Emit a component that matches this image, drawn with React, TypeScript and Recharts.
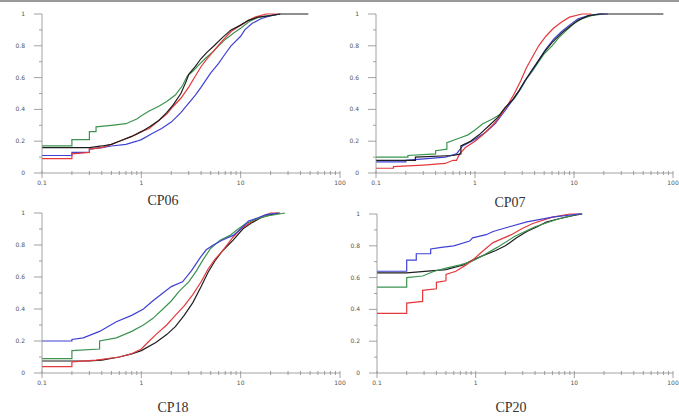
import React from 'react';
import { LineChart, Line, XAxis, YAxis } from 'recharts';

// ---- tick values / labels ----
const X_TICKS = [
  0.1, 0.2, 0.3, 0.4, 0.5, 0.6, 0.7, 0.8, 0.9,
  1, 2, 3, 4, 5, 6, 7, 8, 9,
  10, 20, 30, 40, 50, 60, 70, 80, 90, 100,
];
const X_MAJOR = [0.1, 1, 10, 100];
const X_LABELS = ['0.1', '1', '10', '100'];
const Y_TICKS = [0, 0.1, 0.2, 0.3, 0.4, 0.5, 0.6, 0.7, 0.8, 0.9, 1];
const Y_MAJOR = [0, 0.2, 0.4, 0.6, 0.8, 1];
const Y_LABELS = ['0', '0.2', '0.4', '0.6', '0.8', '1'];

const TITLES = ['CP06', 'CP07', 'CP18', 'CP20'];

// ---- CP06 ----
const cp06Black = [[0.1,0.16],[0.3,0.16],[0.4,0.17],[0.5,0.18],[0.6,0.2],[0.8,0.23],[1.0,0.26],[1.2,0.29],[1.5,0.33],[1.8,0.38],[2.1,0.43],[2.5,0.5],[2.8,0.57],[3.0,0.62],[3.5,0.67],[4,0.72],[4.6,0.76],[5.4,0.8],[6.5,0.85],[8,0.9],[10,0.93],[12,0.96],[15,0.98],[20,0.99],[25,1],[48,1]];
const cp06Red = [[0.1,0.09],[0.2,0.09],[0.2,0.12],[0.3,0.13],[0.3,0.15],[0.4,0.16],[0.5,0.18],[0.6,0.2],[0.8,0.23],[1.0,0.26],[1.2,0.28],[1.5,0.33],[1.8,0.37],[2.1,0.42],[2.5,0.47],[3,0.54],[3.5,0.61],[4,0.67],[4.6,0.72],[5.4,0.77],[6.5,0.83],[8,0.89],[10,0.93],[12,0.96],[14,0.98],[18,1],[24,1]];
const cp06Green = [[0.1,0.17],[0.2,0.17],[0.2,0.21],[0.3,0.21],[0.3,0.26],[0.35,0.26],[0.35,0.29],[0.5,0.3],[0.7,0.31],[0.9,0.34],[1.0,0.36],[1.2,0.39],[1.5,0.42],[1.8,0.45],[2.2,0.49],[2.6,0.55],[2.9,0.61],[3.3,0.64],[3.8,0.68],[4.4,0.72],[5.2,0.76],[6,0.8],[7,0.84],[8.5,0.88],[10,0.91],[12,0.95],[15,0.98],[20,0.99],[25,1]];
const cp06Blue = [[0.1,0.11],[0.2,0.11],[0.2,0.13],[0.3,0.13],[0.3,0.15],[0.4,0.16],[0.5,0.17],[0.7,0.18],[0.9,0.2],[1.0,0.21],[1.3,0.25],[1.6,0.28],[2,0.32],[2.5,0.38],[3,0.44],[3.5,0.49],[4,0.54],[5,0.63],[6,0.69],[7,0.75],[8,0.8],[10,0.86],[11,0.9],[13,0.94],[16,0.97],[20,0.99],[25,1]];

// ---- CP07 ----
const cp07Black = [[0.1,0.08],[0.25,0.08],[0.25,0.1],[0.6,0.11],[0.72,0.12],[0.72,0.17],[0.9,0.2],[1.1,0.24],[1.4,0.3],[1.7,0.35],[2.0,0.41],[2.4,0.46],[2.8,0.52],[3.2,0.58],[3.7,0.64],[4.2,0.69],[5,0.76],[6,0.82],[7.5,0.88],[9,0.92],[11,0.96],[14,0.99],[18,1],[80,1]];
const cp07Red = [[0.1,0.03],[0.15,0.03],[0.15,0.04],[0.3,0.05],[0.5,0.06],[0.6,0.08],[0.65,0.08],[0.7,0.12],[0.8,0.16],[1.0,0.2],[1.2,0.24],[1.5,0.3],[1.8,0.36],[2.1,0.42],[2.5,0.5],[2.9,0.58],[3.3,0.66],[3.8,0.73],[4.4,0.8],[5.2,0.86],[6.2,0.91],[7.5,0.95],[9,0.98],[12,1],[15,1]];
const cp07Green = [[0.1,0.1],[0.21,0.1],[0.21,0.11],[0.4,0.12],[0.4,0.14],[0.52,0.15],[0.52,0.19],[0.7,0.22],[0.85,0.24],[1.0,0.27],[1.2,0.31],[1.5,0.34],[1.8,0.37],[2.1,0.42],[2.5,0.47],[2.9,0.53],[3.3,0.59],[3.8,0.64],[4.4,0.7],[5,0.75],[6,0.8],[7,0.85],[8.5,0.9],[10,0.94],[12,0.97],[15,0.99],[20,1]];
const cp07Blue = [[0.1,0.07],[0.2,0.07],[0.2,0.08],[0.5,0.1],[0.65,0.12],[0.75,0.17],[1.0,0.21],[1.3,0.26],[1.6,0.31],[2,0.39],[2.4,0.46],[2.8,0.52],[3.2,0.58],[3.8,0.65],[4.5,0.72],[5.2,0.78],[6.2,0.84],[7.5,0.89],[9,0.93],[11,0.97],[14,0.99],[18,1],[22,1]];

// ---- CP18 ----
const cp18Black = [[0.1,0.075],[0.3,0.075],[0.4,0.08],[0.6,0.1],[0.8,0.12],[1.0,0.14],[1.4,0.19],[1.8,0.24],[2.2,0.29],[2.7,0.36],[3.3,0.44],[4,0.54],[4.7,0.63],[5.5,0.7],[6.5,0.76],[7.5,0.8],[8.4,0.83],[10.5,0.9],[13,0.94],[16,0.97],[20,0.99],[25,1]];
const cp18Red = [[0.1,0.04],[0.2,0.04],[0.2,0.07],[0.35,0.08],[0.6,0.1],[0.8,0.12],[1.0,0.15],[1.2,0.2],[1.4,0.24],[1.8,0.3],[2.2,0.36],[2.7,0.42],[3.3,0.49],[4,0.57],[4.7,0.65],[5.5,0.71],[6.5,0.76],[7.5,0.81],[8.4,0.85],[10,0.9],[14,0.96],[20,1],[24,1]];
const cp18Green = [[0.1,0.09],[0.2,0.09],[0.2,0.14],[0.38,0.15],[0.38,0.2],[0.56,0.22],[0.8,0.26],[1.05,0.3],[1.3,0.34],[1.65,0.4],[2.0,0.45],[2.4,0.51],[3.0,0.57],[3.6,0.64],[4.2,0.71],[5,0.78],[6.2,0.83],[7.8,0.86],[9,0.89],[11,0.93],[14,0.96],[18,0.98],[28,1]];
const cp18Blue = [[0.1,0.2],[0.2,0.2],[0.2,0.21],[0.26,0.22],[0.38,0.26],[0.56,0.32],[0.8,0.36],[1.05,0.4],[1.3,0.45],[1.65,0.5],[2.0,0.54],[2.6,0.57],[3.2,0.64],[3.9,0.72],[4.5,0.77],[5.3,0.8],[6.5,0.83],[8.4,0.86],[10,0.9],[12,0.95],[15,0.97],[18,0.99],[24,1]];

// ---- CP20 ----
const cp20Black = [[0.1,0.63],[0.2,0.63],[0.5,0.65],[0.75,0.68],[0.93,0.71],[1.2,0.74],[1.6,0.77],[2.0,0.8],[2.6,0.85],[3.3,0.89],[4.2,0.92],[5.2,0.95],[7,0.97],[9.6,0.99],[12,1]];
const cp20Red = [[0.1,0.375],[0.2,0.375],[0.2,0.44],[0.29,0.45],[0.29,0.52],[0.4,0.53],[0.4,0.57],[0.5,0.58],[0.5,0.62],[0.63,0.64],[0.8,0.68],[0.93,0.71],[1.2,0.77],[1.5,0.82],[2.3,0.87],[3,0.91],[3.8,0.94],[6,0.98],[9,1],[11,1]];
const cp20Green = [[0.1,0.54],[0.2,0.54],[0.2,0.6],[0.29,0.61],[0.38,0.64],[0.5,0.66],[0.7,0.68],[0.9,0.7],[1.2,0.74],[1.65,0.79],[2.5,0.86],[4,0.92],[7,0.97],[11,1],[12,1]];
const cp20Blue = [[0.1,0.64],[0.2,0.64],[0.2,0.71],[0.25,0.71],[0.25,0.75],[0.35,0.75],[0.35,0.78],[0.45,0.79],[0.6,0.8],[0.87,0.83],[0.93,0.85],[1.28,0.87],[1.5,0.89],[2.2,0.92],[3.3,0.95],[6,0.98],[11.2,1],[12,1]];

const COLORS = { black: '#1e1e1e', red: '#e4383c', green: '#3c9450', blue: '#4040d4' };

type Pt = number[];
const toData = (a: Pt[]) => a.map(([x, y]) => ({ x, y }));

const PANELS = [
  { title: TITLES[0], plot: { left: 42, top: 14, right: 340, bottom: 173 }, titleX: 163, titleY: 194,
    series: [[cp06Green, COLORS.green], [cp06Blue, COLORS.blue], [cp06Red, COLORS.red], [cp06Black, COLORS.black]] },
  { title: TITLES[1], plot: { left: 376, top: 14, right: 673, bottom: 173 }, titleX: 510, titleY: 196,
    series: [[cp07Green, COLORS.green], [cp07Blue, COLORS.blue], [cp07Red, COLORS.red], [cp07Black, COLORS.black]] },
  { title: TITLES[2], plot: { left: 42, top: 213, right: 340, bottom: 373 }, titleX: 173, titleY: 401,
    series: [[cp18Black, COLORS.black], [cp18Red, COLORS.red], [cp18Green, COLORS.green], [cp18Blue, COLORS.blue]] },
  { title: TITLES[3], plot: { left: 377, top: 214, right: 673, bottom: 373 }, titleX: 511, titleY: 401,
    series: [[cp20Black, COLORS.black], [cp20Green, COLORS.green], [cp20Red, COLORS.red], [cp20Blue, COLORS.blue]] },
];

const AXIS = '#8a8a8a';
const LABEL = '#555';

const XTick = (props: any) => {
  const { x, y, payload } = props;
  const v = payload.value;
  const idx = X_MAJOR.findIndex((m) => Math.abs(m - v) < 1e-9);
  const major = idx >= 0;
  return (
    <g>
      <line x1={x} x2={x} y1={y - 2} y2={y + (major ? 5 : 2)} stroke={AXIS} strokeWidth={0.8} />
      {major && (
        <text x={x} y={y + 12} textAnchor="middle" fontSize={6} fill={LABEL} fontFamily="DejaVu Sans">
          {X_LABELS[idx]}
        </text>
      )}
    </g>
  );
};

const YTick = (props: any) => {
  const { x, y, payload } = props;
  const v = payload.value;
  const idx = Y_MAJOR.findIndex((m) => Math.abs(m - v) < 1e-9);
  const major = idx >= 0;
  return (
    <g>
      <line x1={x - (major ? 8 : 3)} x2={x} y1={y} y2={y} stroke={AXIS} strokeWidth={0.8} />
      {major && (
        <text x={x - 17} y={y + 2} textAnchor="end" fontSize={6} fill={LABEL} fontFamily="DejaVu Sans">
          {Y_LABELS[idx]}
        </text>
      )}
    </g>
  );
};

const Panel = ({ p }: { p: any }) => {
  const { left, top, right, bottom } = p.plot;
  const w = right - left + 50;
  const h = bottom - top + 30;
  return (
    <>
      <div style={{ position: 'absolute', left: left - 40, top: top - 10 }}>
        <LineChart width={w} height={h} margin={{ top: 10, right: 10, left: 0, bottom: 0 }}>
          <XAxis
            dataKey="x"
            type="number"
            scale="log"
            domain={[0.1, 100]}
            ticks={X_TICKS}
            interval={0}
            allowDataOverflow
            height={20}
            tickSize={0}
            tickMargin={0}
            tickLine={false}
            axisLine={{ stroke: AXIS, strokeWidth: 0.8 }}
            tick={<XTick />}
          />
          <YAxis
            type="number"
            domain={[0, 1]}
            ticks={Y_TICKS}
            interval={0}
            width={40}
            tickSize={0}
            tickMargin={0}
            tickLine={false}
            axisLine={{ stroke: AXIS, strokeWidth: 0.8 }}
            tick={<YTick />}
          />
          {p.series.map(([arr, color]: any, i: number) => (
            <Line
              key={i}
              data={toData(arr)}
              dataKey="y"
              type="linear"
              stroke={color}
              strokeWidth={1.2}
              dot={false}
              isAnimationActive={false}
            />
          ))}
        </LineChart>
      </div>
      <div
        style={{
          position: 'absolute',
          left: p.titleX,
          top: p.titleY,
          transform: 'translateX(-50%)',
          fontFamily: '"Liberation Serif", serif',
          fontSize: 14,
          lineHeight: '14px',
          color: '#333',
          whiteSpace: 'nowrap',
        }}
      >
        {p.title}
      </div>
    </>
  );
};

export default function App() {
  return (
    <div style={{ position: 'absolute', left: 0, top: 0, width: 679, height: 417, background: '#fff', overflow: 'hidden' }}>
      <div style={{ position: 'absolute', left: 0, top: 0, width: 679, height: 2, background: '#9a9a9a' }} />
      {PANELS.map((p, i) => (
        <Panel key={i} p={p} />
      ))}
    </div>
  );
}
